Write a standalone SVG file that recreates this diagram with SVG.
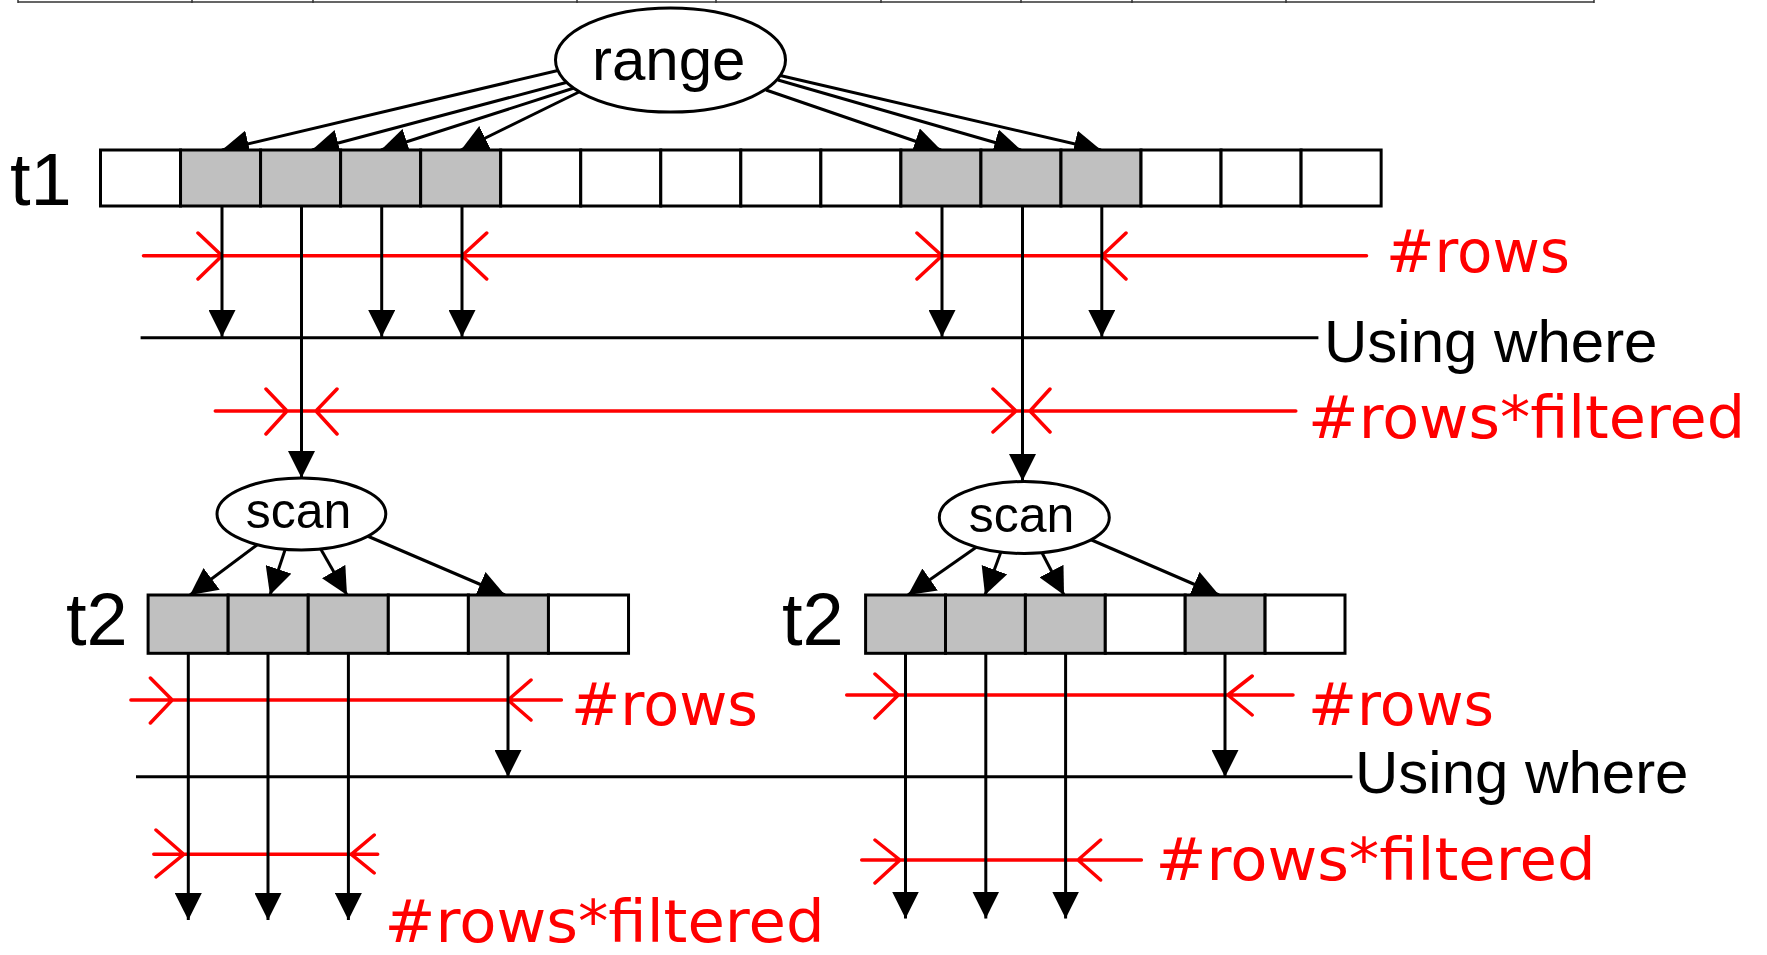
<svg xmlns="http://www.w3.org/2000/svg" width="1767" height="955" viewBox="0 0 1767 955">
<style>
.bg{fill:#ffffff}
.cell{fill:#ffffff;stroke:#000;stroke-width:3}
.hit{fill:#c0c0c0;stroke:#000;stroke-width:3}
.node{fill:#ffffff;stroke:#000;stroke-width:3}
.conn{fill:none;stroke:#000;stroke-width:3;marker-end:url(#ah)}
.rule{fill:none;stroke:#000;stroke-width:3}
.red{fill:none;stroke:#ff0000;stroke-width:3.5;stroke-linecap:round;stroke-linejoin:round}
.lbl{font-family:"Liberation Sans",Arial,sans-serif;font-size:60px;fill:#000}
.tbl{font-family:"Liberation Sans",Arial,sans-serif;font-size:74px;fill:#000}
.rt{font-family:"DejaVu Sans","Noto Sans",sans-serif;font-size:58px;fill:#ff0000}
.top{fill:none;stroke:#333;stroke-width:1.5}
</style>
<defs>
<marker id="ah" viewBox="0 0 27 27" refX="27" refY="13.5" markerWidth="27" markerHeight="27" markerUnits="userSpaceOnUse" orient="auto">
<path d="M0,0 L27,13.5 L0,27 z" fill="#000"/>
</marker>
</defs>
<rect class="bg" x="0" y="0" width="1767" height="955"/>

<g id="top-border">
<path class="top" d="M18,2 H1594 M18,0 V3 M192,0 V3 M313,0 V3 M577,0 V3 M716,0 V3 M881,0 V3 M1021,0 V3 M1132,0 V3 M1286,0 V3 M1594,0 V3"/>
</g>

<g id="annotations">
<path class="red" d="M143.5,255.7 H1366.5 M198,233 L222,255.7 L198,279 M486.7,233 L462,255.7 L486.7,279 M917,233 L942,255.7 L917,279 M1126,233 L1102,255.7 L1126,279"/>
<path class="red" d="M215.3,411 H1295.8 M266,389 L287,411 L266,434 M337,389 L316,411 L337,434 M993,389 L1016,411 L993,432 M1050,389 L1030,411 L1050,432"/>
<path class="red" d="M130.9,700 H561.4 M150.4,678 L172.2,700 L150.4,723 M531,680 L508,700 L531,720"/>
<path class="red" d="M846.7,695 H1293 M875,674 L898.3,695 L875,718 M1252.2,676 L1227.9,695 L1252.2,715"/>
<path class="red" d="M153.8,854.3 H377.7 M156,830 L183.7,854.3 L156,877 M374.2,835 L351.3,854.3 L374.2,873"/>
<path class="red" d="M861.7,860 H1141.4 M875,840 L900,860 L875,883 M1100.6,840 L1078,860 L1100.6,880"/>
<text class="rt" x="1386" y="271.7" textLength="184" lengthAdjust="spacingAndGlyphs">#rows</text>
<text class="rt" x="1308" y="438" textLength="437" lengthAdjust="spacingAndGlyphs">#rows*filtered</text>
<text class="rt" x="571" y="725" textLength="187" lengthAdjust="spacingAndGlyphs">#rows</text>
<text class="rt" x="1308" y="725" textLength="186" lengthAdjust="spacingAndGlyphs">#rows</text>
<text class="rt" x="384.6" y="942" textLength="440" lengthAdjust="spacingAndGlyphs">#rows*filtered</text>
<text class="rt" x="1155.5" y="880" textLength="440" lengthAdjust="spacingAndGlyphs">#rows*filtered</text>
</g>

<g id="using-where">
<path class="rule" d="M140.6,337.7 H1318.4"/>
<text class="lbl" x="1324" y="361.7">Using where</text>
<path class="rule" d="M136,776.7 H1352.4"/>
<text class="lbl" x="1355" y="793.3">Using where</text>
</g>

<g id="connectors">
<path class="conn" d="M560,70 L222,150"/>
<path class="conn" d="M568,82 L312,150"/>
<path class="conn" d="M574,88 L381,150"/>
<path class="conn" d="M579,92 L461,150"/>
<path class="conn" d="M778,75 L1101,150"/>
<path class="conn" d="M778,80 L1021,150"/>
<path class="conn" d="M766,90 L941,150"/>
<path class="conn" d="M222,206 V337"/>
<path class="conn" d="M381.7,206 V337"/>
<path class="conn" d="M462,206 V337"/>
<path class="conn" d="M942,206 V337"/>
<path class="conn" d="M1101.8,206 V337"/>
<path class="conn" d="M301.5,206 V478"/>
<path class="conn" d="M1022.5,206 V481"/>
<path class="conn" d="M257,545 L190,595"/>
<path class="conn" d="M286,547 L270,595"/>
<path class="conn" d="M319,546 L347,595"/>
<path class="conn" d="M365,535 L505,595"/>
<path class="conn" d="M978,546 L908,595"/>
<path class="conn" d="M1002,549 L985,595"/>
<path class="conn" d="M1040,549 L1064,595"/>
<path class="conn" d="M1087,538 L1219,595"/>
<path class="conn" d="M188.3,653 V920"/>
<path class="conn" d="M268,653 V920"/>
<path class="conn" d="M348.4,653 V920"/>
<path class="conn" d="M508,653 V777"/>
<path class="conn" d="M905.5,653 V918.5"/>
<path class="conn" d="M985.8,653 V918.5"/>
<path class="conn" d="M1065.6,653 V918.5"/>
<path class="conn" d="M1225,653 V777"/>
</g>

<g id="range">
<ellipse class="node" cx="670.5" cy="60" rx="115" ry="52"/>
<text class="lbl" x="668.7" y="80" text-anchor="middle">range</text>
</g>

<g id="t1">
<text class="tbl" x="10" y="205">t1</text>
<rect class="cell" x="100.5" y="150" width="80.04" height="56"/>
<rect class="hit" x="180.54" y="150" width="80.04" height="56"/>
<rect class="hit" x="260.58" y="150" width="80.04" height="56"/>
<rect class="hit" x="340.62" y="150" width="80.04" height="56"/>
<rect class="hit" x="420.66" y="150" width="80.04" height="56"/>
<rect class="cell" x="500.7" y="150" width="80.04" height="56"/>
<rect class="cell" x="580.74" y="150" width="80.04" height="56"/>
<rect class="cell" x="660.78" y="150" width="80.04" height="56"/>
<rect class="cell" x="740.82" y="150" width="80.04" height="56"/>
<rect class="cell" x="820.86" y="150" width="80.04" height="56"/>
<rect class="hit" x="900.9" y="150" width="80.04" height="56"/>
<rect class="hit" x="980.94" y="150" width="80.04" height="56"/>
<rect class="hit" x="1060.98" y="150" width="80.04" height="56"/>
<rect class="cell" x="1141.02" y="150" width="80.04" height="56"/>
<rect class="cell" x="1221.06" y="150" width="80.04" height="56"/>
<rect class="cell" x="1301.1" y="150" width="80.04" height="56"/>
</g>

<g id="scan-left">
<ellipse class="node" cx="301.4" cy="514" rx="84.4" ry="36"/>
<text class="lbl" x="298.5" y="528.3" text-anchor="middle" style="font-size:50px">scan</text>
</g>

<g id="scan-right">
<ellipse class="node" cx="1024.3" cy="517.5" rx="85" ry="36"/>
<text class="lbl" x="1021.5" y="531.7" text-anchor="middle" style="font-size:50px">scan</text>
</g>

<g id="t2-left">
<text class="tbl" x="66" y="645">t2</text>
<rect class="hit" x="148.1" y="595" width="80.07" height="58.3"/>
<rect class="hit" x="228.17" y="595" width="80.07" height="58.3"/>
<rect class="hit" x="308.24" y="595" width="80.07" height="58.3"/>
<rect class="cell" x="388.31" y="595" width="80.07" height="58.3"/>
<rect class="hit" x="468.38" y="595" width="80.07" height="58.3"/>
<rect class="cell" x="548.45" y="595" width="80.07" height="58.3"/>
</g>

<g id="t2-right">
<text class="tbl" x="782" y="645">t2</text>
<rect class="hit" x="865.6" y="595" width="79.9" height="58.3"/>
<rect class="hit" x="945.5" y="595" width="79.9" height="58.3"/>
<rect class="hit" x="1025.4" y="595" width="79.9" height="58.3"/>
<rect class="cell" x="1105.3" y="595" width="79.9" height="58.3"/>
<rect class="hit" x="1185.2" y="595" width="79.9" height="58.3"/>
<rect class="cell" x="1265.1" y="595" width="79.9" height="58.3"/>
</g>
</svg>
